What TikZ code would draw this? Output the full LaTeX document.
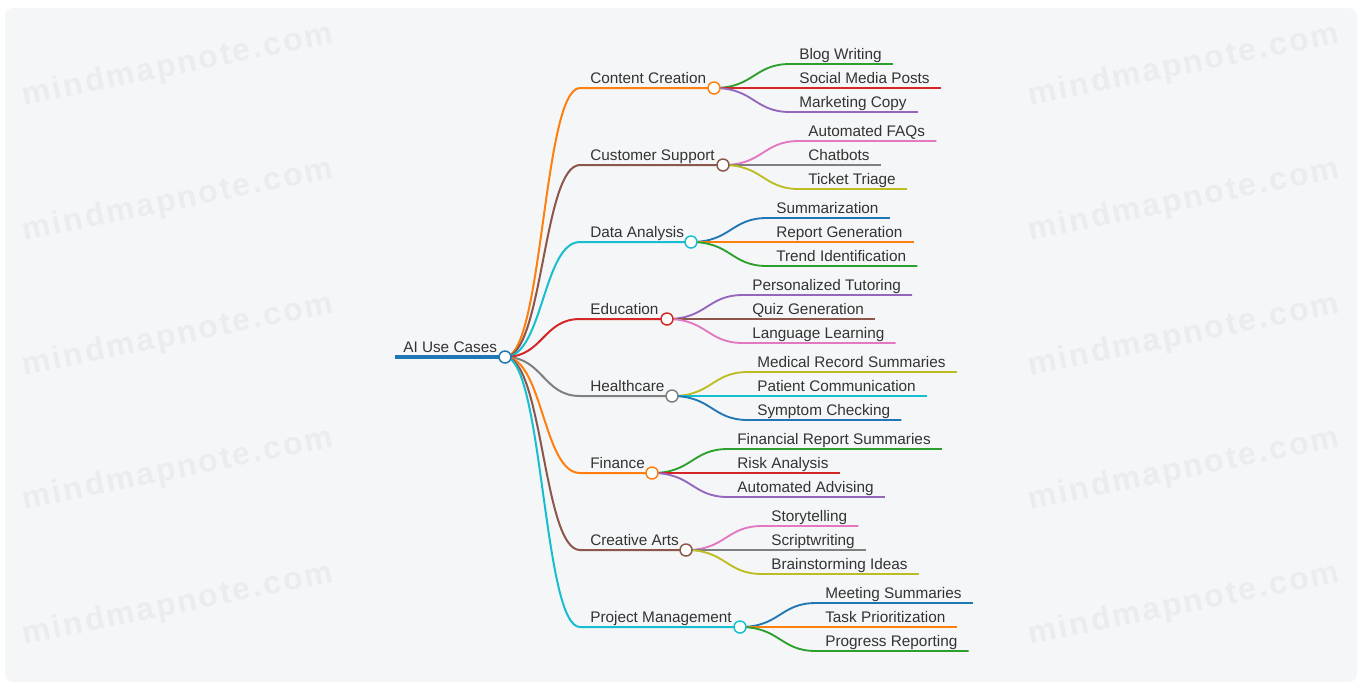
\documentclass[tikz,border=0pt]{standalone}
\usepackage{fontspec}
\setmainfont{Liberation Sans}
\newfontfamily\wmfont[LetterSpace=7]{Liberation Sans Bold}
\pgfdeclarelayer{back}
\pgfdeclarelayer{bg}
\pgfsetlayers{back,bg,main}
\definecolor{cblue}{HTML}{1F77B4}
\definecolor{corange}{HTML}{FF7F0E}
\definecolor{cgreen}{HTML}{2CA02C}
\definecolor{cred}{HTML}{D62728}
\definecolor{cpurple}{HTML}{9467BD}
\definecolor{cbrown}{HTML}{8C564B}
\definecolor{cpink}{HTML}{E377C2}
\definecolor{cgray}{HTML}{7F7F7F}
\definecolor{colive}{HTML}{BCBD22}
\definecolor{ccyan}{HTML}{17BECF}
\definecolor{txt}{HTML}{333333}
\definecolor{bgc}{HTML}{F5F6F8}
\definecolor{wm}{HTML}{EBECEF}
\tikzset{
  lbl/.style={anchor=base west, inner sep=0pt, text=txt, font=\fontsize{11.5}{14}\selectfont},
  dot/.style={circle, fill=white, line width=1.1pt, minimum size=9pt, inner sep=0pt},
  brl/.style={line width=1.5pt},
  kidl/.style={line width=1.4pt},
  wmark/.style={text=wm, rotate=11.5, font=\wmfont\fontsize{24}{28}\selectfont}
}
\newcommand\mmbranch[5]{% name, label, y, cx, color
  \coordinate (#1s) at (580,#3);
  \node[lbl] (#1t) at (590,{#3-5}) {#2};
  \node[dot,draw=#5] (#1c) at (#4,#3) {};
  \begin{pgfonlayer}{bg}
    \draw[brl,draw=#5] (root.center) .. controls (543,357) and (543,#3) .. (#1s) -- (#1c.center);
  \end{pgfonlayer}
}
\newcommand\mmkid[7]{% parent, kid, label, parent y, kid y, parent cx, color
  \coordinate (#2s) at ({#6+76},#5);
  \node[lbl] (#2t) at ({#6+85},{#5-5}) {#3};
  \begin{pgfonlayer}{bg}
    \draw[kidl,draw=#7] (#1c.center) .. controls ({#6+40},#4) and ({#6+40},#5) .. (#2s) -- (#2s -| #2t.east) -- ++(11,0);
  \end{pgfonlayer}
}
\begin{document}
\begin{tikzpicture}[x=0.75pt,y=-0.75pt]
\useasboundingbox (0,0) rectangle (1362,687);
\begin{pgfonlayer}{back}
  \fill[white] (0,0) rectangle (1362,687);
  \fill[bgc, rounded corners=6pt] (5,8) rectangle (1357,682);
  \foreach \yy [count=\i] in {66,201,336,470,605} {
    \node[wmark] (wl\i) at (178,\yy) {mindmapnote.com};
    \node[wmark] (wr\i) at (1184,\yy) {mindmapnote.com};
  }
\end{pgfonlayer}

% root
\coordinate (rootst) at (395,357);
\node[lbl] (roott) at (403,352) {AI Use Cases};
\node[dot,draw=cblue] (root) at (505,357) {};
\begin{pgfonlayer}{bg}
  \draw[line width=3pt,cblue] (rootst) -- (root.center);
\end{pgfonlayer}

% branches
\mmbranch{cc}{Content Creation}{88}{714}{corange}
\mmbranch{cs}{Customer Support}{165}{723}{cbrown}
\mmbranch{da}{Data Analysis}{242}{691}{ccyan}
\mmbranch{ed}{Education}{319}{667}{cred}
\mmbranch{hc}{Healthcare}{396}{672}{cgray}
\mmbranch{fi}{Finance}{473}{652}{corange}
\mmbranch{ca}{Creative Arts}{550}{686}{cbrown}
\mmbranch{pm}{Project Management}{627}{740}{ccyan}

% children
\mmkid{cc}{cc1}{Blog Writing}{88}{64}{714}{cgreen}
\mmkid{cc}{cc2}{Social Media Posts}{88}{88}{714}{cred}
\mmkid{cc}{cc3}{Marketing Copy}{88}{112}{714}{cpurple}

\mmkid{cs}{cs1}{Automated FAQs}{165}{141}{723}{cpink}
\mmkid{cs}{cs2}{Chatbots}{165}{165}{723}{cgray}
\mmkid{cs}{cs3}{Ticket Triage}{165}{189}{723}{colive}

\mmkid{da}{da1}{Summarization}{242}{218}{691}{cblue}
\mmkid{da}{da2}{Report Generation}{242}{242}{691}{corange}
\mmkid{da}{da3}{Trend Identification}{242}{266}{691}{cgreen}

\mmkid{ed}{ed1}{Personalized Tutoring}{319}{295}{667}{cpurple}
\mmkid{ed}{ed2}{Quiz Generation}{319}{319}{667}{cbrown}
\mmkid{ed}{ed3}{Language Learning}{319}{343}{667}{cpink}

\mmkid{hc}{hc1}{Medical Record Summaries}{396}{372}{672}{colive}
\mmkid{hc}{hc2}{Patient Communication}{396}{396}{672}{ccyan}
\mmkid{hc}{hc3}{Symptom Checking}{396}{420}{672}{cblue}

\mmkid{fi}{fi1}{Financial Report Summaries}{473}{449}{652}{cgreen}
\mmkid{fi}{fi2}{Risk Analysis}{473}{473}{652}{cred}
\mmkid{fi}{fi3}{Automated Advising}{473}{497}{652}{cpurple}

\mmkid{ca}{ca1}{Storytelling}{550}{526}{686}{cpink}
\mmkid{ca}{ca2}{Scriptwriting}{550}{550}{686}{cgray}
\mmkid{ca}{ca3}{Brainstorming Ideas}{550}{574}{686}{colive}

\mmkid{pm}{pm1}{Meeting Summaries}{627}{603}{740}{cblue}
\mmkid{pm}{pm2}{Task Prioritization}{627}{627}{740}{corange}
\mmkid{pm}{pm3}{Progress Reporting}{627}{651}{740}{cgreen}
\end{tikzpicture}
\end{document}
